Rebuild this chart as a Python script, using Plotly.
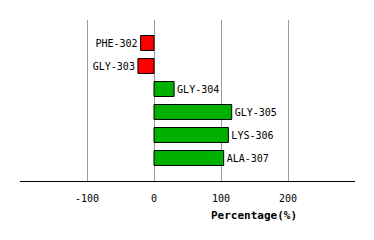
import plotly.graph_objects as go

residues = ["PHE-302", "GLY-303", "GLY-304", "GLY-305", "LYS-306", "ALA-307"]
percentages = [-20, -24, 30, 116, 111, 104]
tick_values = [-100, 0, 100, 200]
tick_labels = ["-100", "0", "100", "200"]

colors = ["#FF0000" if v < 0 else "#00B000" for v in percentages]
positions = list(range(len(residues)))

fig = go.Figure(go.Bar(
    x=percentages, y=positions, orientation="h",
    marker=dict(color=colors, line=dict(color="black", width=1)),
    width=0.65,
    text=residues, textposition="outside",
    textfont=dict(family="DejaVu Sans Mono", size=10, color="black"),
    cliponaxis=False,
))

fig.update_layout(
    width=374, height=240,
    margin=dict(l=20, r=19, t=20, b=59),
    plot_bgcolor="white", paper_bgcolor="white",
    showlegend=False,
    xaxis=dict(range=[-200, 300], tickvals=tick_values, ticktext=tick_labels,
               showgrid=True, gridcolor="#999999", gridwidth=1,
               zeroline=False, showline=True, linecolor="black", linewidth=1,
               ticks="", ticklen=0, ticklabelstandoff=8,
               tickfont=dict(family="DejaVu Sans Mono", size=10, color="black")),
    yaxis=dict(range=[6, -1], showticklabels=False, showgrid=False,
               zeroline=False, showline=False),
    annotations=[dict(text="<b>Percentage(%)</b>", showarrow=False,
                      xref="paper", yref="paper",
                      x=(254 - 20) / 335, y=(240 - 59 - 215) / 161,
                      xanchor="center", yanchor="middle",
                      font=dict(family="DejaVu Sans Mono", size=11, color="black"))],
)

fig.write_html("out.html")
